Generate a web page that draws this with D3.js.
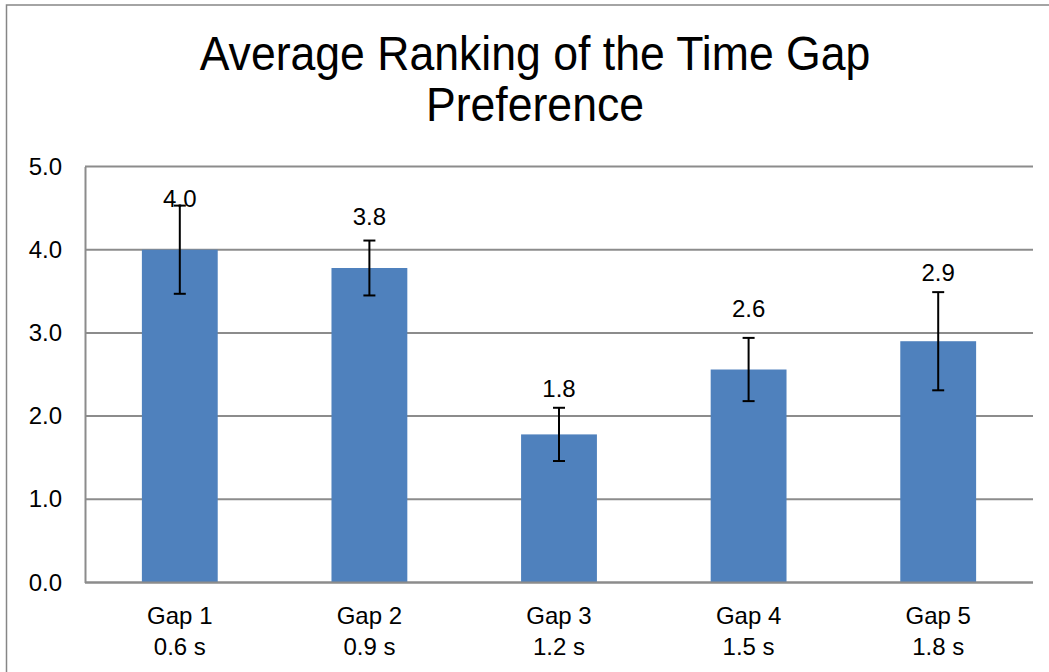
<!DOCTYPE html>
<html>
<head>
<meta charset="utf-8">
<script src="https://cdn.jsdelivr.net/npm/d3@7"></script>
<style>
  html, body { margin: 0; padding: 0; background: #ffffff; }
  svg { display: block; }
</style>
</head>
<body>
<div id="chart"></div>
<script>
// ---- data ----
const gaps = ["Gap 1", "Gap 2", "Gap 3", "Gap 4", "Gap 5"];
const gapTimes = ["0.6 s", "0.9 s", "1.2 s", "1.5 s", "1.8 s"];
const meanRank = [4.00, 3.78, 1.78, 2.56, 2.90];
const errRank = [0.53, 0.33, 0.32, 0.38, 0.59];
const labelAt = [4.51, 4.30, 2.23, 3.19, 3.62]; // where the value labels sit (data units)
const yTicks = [0, 1, 2, 3, 4, 5];
const titleLines = ["Average Ranking of the Time Gap", "Preference"];

// ---- styles ----
const COLORS = {
  bar: '#4f81bd',
  grid: '#8c8c8c',
  border: '#868686',
  text: '#000000'
};
const FONT = '"Liberation Sans", Arial, sans-serif';

const width = 1049, height = 672;
const margin = { top: 166.5, right: 16, bottom: 89.5, left: 85 };

const svg = d3.select("#chart").append("svg")
  .attr("width", width)
  .attr("height", height);

svg.append("rect").attr("width", width).attr("height", height).attr("fill", "#fff");

// outer chart border (runs off the right/bottom of the crop)
svg.append("rect")
  .attr("x", 6.5).attr("y", 5)
  .attr("width", width + 20).attr("height", height + 20)
  .attr("fill", "none")
  .attr("stroke", COLORS.border)
  .attr("stroke-width", 1.5);

// title
const titleG = svg.append("g").attr("transform", "translate(535,0) scale(0.91,1)");
titleG.selectAll("text")
  .data(titleLines)
  .enter().append("text")
  .attr("x", 0)
  .attr("y", (d, i) => 70 + i * 51)
  .attr("text-anchor", "middle")
  .attr("font-family", FONT)
  .attr("font-size", "49px")
  .attr("fill", COLORS.text)
  .text(d => d);

const x = d3.scaleBand()
  .domain(gaps)
  .range([margin.left, width - margin.right])
  .paddingInner(0.6)
  .paddingOuter(0.3);

const y = d3.scaleLinear()
  .domain([0, 5])
  .range([height - margin.bottom, margin.top]);

// gridlines
svg.append("g")
  .selectAll("line")
  .data(yTicks)
  .enter().append("line")
  .attr("x1", margin.left)
  .attr("x2", width - margin.right)
  .attr("y1", d => y(d))
  .attr("y2", d => y(d))
  .attr("stroke", COLORS.grid)
  .attr("stroke-width", 2);

// y axis
const yAxis = svg.append("g")
  .attr("transform", `translate(${margin.left},0)`)
  .call(d3.axisLeft(y).tickValues(yTicks).tickFormat(d3.format(".1f")).tickSize(0).tickPadding(23));
yAxis.select(".domain").attr("stroke", COLORS.grid).attr("stroke-width", 2);
yAxis.selectAll("text")
  .attr("font-family", FONT)
  .attr("font-size", "24px")
  .attr("fill", COLORS.text);

// bars
svg.append("g")
  .selectAll("rect")
  .data(gaps)
  .enter().append("rect")
  .attr("x", d => x(d))
  .attr("width", x.bandwidth())
  .attr("y", (d, i) => y(meanRank[i]))
  .attr("height", (d, i) => y(0) - y(meanRank[i]))
  .attr("fill", COLORS.bar);

// bottom axis line on top of bars
svg.append("line")
  .attr("x1", margin.left).attr("x2", width - margin.right)
  .attr("y1", y(0)).attr("y2", y(0))
  .attr("stroke", COLORS.grid).attr("stroke-width", 2);

// error bars
const capW = 6;
const errG = svg.append("g").selectAll("g")
  .data(gaps)
  .enter().append("g")
  .attr("stroke", "#000")
  .attr("stroke-width", 2);
errG.append("line")
  .attr("x1", d => x(d) + x.bandwidth() / 2)
  .attr("x2", d => x(d) + x.bandwidth() / 2)
  .attr("y1", (d, i) => y(meanRank[i] + errRank[i]))
  .attr("y2", (d, i) => y(meanRank[i] - errRank[i]));
[1, -1].forEach(s => {
  errG.append("line")
    .attr("x1", d => x(d) + x.bandwidth() / 2 - capW)
    .attr("x2", d => x(d) + x.bandwidth() / 2 + capW)
    .attr("y1", (d, i) => y(meanRank[i] + s * errRank[i]))
    .attr("y2", (d, i) => y(meanRank[i] + s * errRank[i]));
});

// value labels
svg.append("g")
  .selectAll("text")
  .data(gaps)
  .enter().append("text")
  .attr("x", d => x(d) + x.bandwidth() / 2)
  .attr("y", (d, i) => y(labelAt[i]))
  .attr("text-anchor", "middle")
  .attr("font-family", FONT)
  .attr("font-size", "24px")
  .attr("fill", COLORS.text)
  .text((d, i) => meanRank[i].toFixed(1));

// category labels (two lines)
const catG = svg.append("g")
  .selectAll("text")
  .data(gaps)
  .enter().append("text")
  .attr("text-anchor", "middle")
  .attr("font-family", FONT)
  .attr("font-size", "24px")
  .attr("fill", COLORS.text);
catG.append("tspan")
  .attr("x", d => x(d) + x.bandwidth() / 2)
  .attr("y", y(0) + 41)
  .text(d => d);
catG.append("tspan")
  .attr("x", d => x(d) + x.bandwidth() / 2)
  .attr("y", y(0) + 72)
  .text((d, i) => gapTimes[i]);
</script>
</body>
</html>
